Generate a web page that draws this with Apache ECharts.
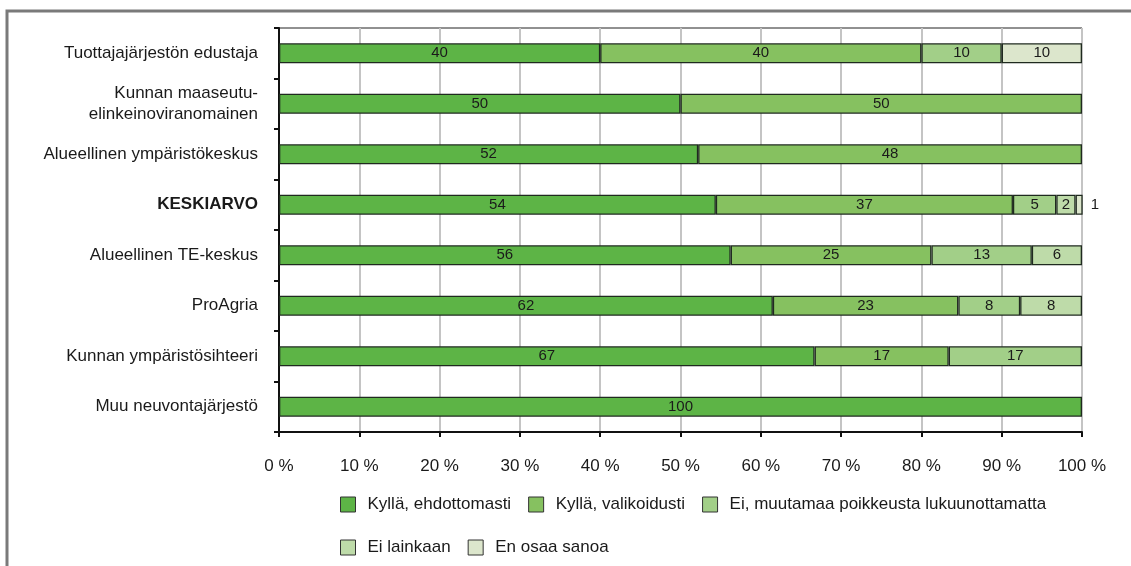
<!DOCTYPE html>
<html>
<head>
<meta charset="utf-8">
<script src="https://cdn.jsdelivr.net/npm/echarts@6/dist/echarts.min.js"></script>
<style>
  html, body { margin: 0; padding: 0; background: #fff; }
  #chart { width: 1131px; height: 566px; }
</style>
</head>
<body>
<div id="chart"></div>
<script>
// vastaajaryhmät (ylhäältä alas)
const categories = [
    'Tuottajajärjestön edustaja',
    'Kunnan maaseutu-\nelinkeinoviranomainen',
    'Alueellinen ympäristökeskus',
    'KESKIARVO',
    'Alueellinen TE-keskus',
    'ProAgria',
    'Kunnan ympäristösihteeri',
    'Muu neuvontajärjestö'
];

const seriesNames = [
    'Kyllä, ehdottomasti',
    'Kyllä, valikoidusti',
    'Ei, muutamaa poikkeusta lukuunottamatta',
    'Ei lainkaan',
    'En osaa sanoa'
];

// prosenttiosuudet, null = ei osuutta
const kyllaEhdottomasti = [40, 50, 52.2, 54.4, 56.25, 61.5, 66.7, 100];
const kyllaValikoidusti = [40, 50, 47.8, 37.0, 25, 23.1, 16.7, null];
const eiMuutamaa = [10, null, null, 5.4, 12.5, 7.7, 16.6, null];
const eiLainkaan = [null, null, null, 2.4, 6.25, 7.7, null, null];
const enOsaaSanoa = [10, null, null, 0.9, null, null, null, null];

const tickLabels = ['0 %', '10 %', '20 %', '30 %', '40 %', '50 %', '60 %', '70 %', '80 %', '90 %', '100 %'];

const colors = ['#5db446', '#86c160', '#a2cf88', '#bedba9', '#dce6cc'];

const font = '"Liberation Sans", Arial, sans-serif';

const chart = echarts.init(document.getElementById('chart'));

function makeSeries(name, values, color) {
    return {
        name: name,
        type: 'bar',
        stack: 'total',
        barWidth: 20,
        data: values.map((v, i) => {
            // KESKIARVO:n pieni viimeinen osuus näytetään palkin oikealla puolella
            if (name === 'En osaa sanoa' && categories[i] === 'KESKIARVO') {
                return { value: v, label: { position: 'right', distance: 8 } };
            }
            return v === null ? '-' : v;
        }),
        itemStyle: {
            color: color,
            borderColor: '#1f2a1f',
            borderWidth: 1.3
        },
        label: {
            show: true,
            position: 'inside',
            fontFamily: font,
            fontSize: 15,
            color: '#1a1a1a',
            formatter: p => Math.round(p.value)
        }
    };
}

const legendText = { fontFamily: font, fontSize: 17, color: '#1a1a1a', padding: [0, 0, 0, 7] };

const option = {
    backgroundColor: '#fff',
    animation: false,
    graphic: [{
        type: 'rect',
        shape: { x: 7, y: 11, width: 1140, height: 600 },
        style: { fill: 'none', stroke: '#7a7a7a', lineWidth: 3 },
        silent: true
    }],
    legend: [{
        data: seriesNames.slice(0, 3),
        left: 340,
        top: 496,
        padding: 0,
        itemWidth: 15,
        itemHeight: 15,
        itemGap: 17,
        icon: 'rect',
        itemStyle: { borderColor: '#333', borderWidth: 1 },
        textStyle: legendText
    }, {
        data: seriesNames.slice(3),
        left: 340,
        top: 539,
        padding: 0,
        itemWidth: 15,
        itemHeight: 15,
        itemGap: 17,
        icon: 'rect',
        itemStyle: { borderColor: '#333', borderWidth: 1 },
        textStyle: legendText
    }],
    grid: {
        left: 279,
        right: 49,
        top: 28,
        bottom: 134,
        show: true,
        borderColor: '#222',
        borderWidth: 1
    },
    xAxis: {
        type: 'value',
        min: 0,
        max: 100,
        interval: 10,
        axisLine: { show: true, lineStyle: { color: '#111', width: 2 } },
        axisTick: { show: true, length: 5, lineStyle: { color: '#111', width: 2 } },
        axisLabel: {
            margin: 26,
            fontFamily: font,
            fontSize: 17,
            color: '#1a1a1a',
            formatter: v => tickLabels[Math.round(v / 10)]
        },
        splitLine: { show: true, lineStyle: { color: '#c4c4c4', width: 2 } }
    },
    yAxis: {
        type: 'category',
        inverse: true,
        data: categories,
        axisLine: { show: true, lineStyle: { color: '#111', width: 2 } },
        axisTick: { show: true, length: 5, lineStyle: { color: '#111', width: 2 } },
        axisLabel: {
            margin: 21,
            fontFamily: font,
            fontSize: 17,
            color: '#1a1a1a',
            lineHeight: 21,
            align: 'right',
            formatter: v => v === 'KESKIARVO' ? '{b|' + v + '}' : v,
            rich: {
                b: { fontFamily: font, fontSize: 17, fontWeight: 'bold', color: '#1a1a1a' }
            }
        }
    },
    series: [
        makeSeries(seriesNames[0], kyllaEhdottomasti, colors[0]),
        makeSeries(seriesNames[1], kyllaValikoidusti, colors[1]),
        makeSeries(seriesNames[2], eiMuutamaa, colors[2]),
        makeSeries(seriesNames[3], eiLainkaan, colors[3]),
        makeSeries(seriesNames[4], enOsaaSanoa, colors[4])
    ]
};

chart.setOption(option);
</script>
</body>
</html>
